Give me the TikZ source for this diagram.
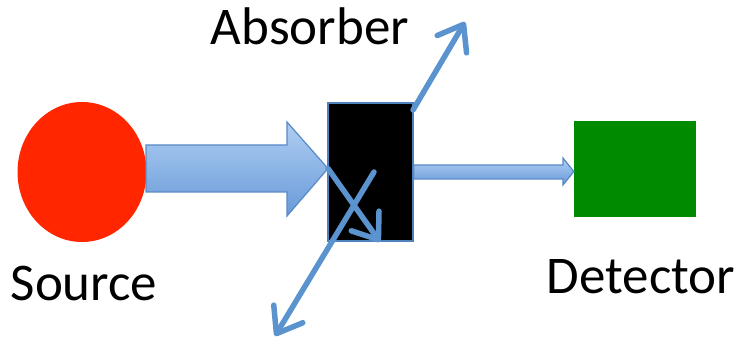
\documentclass[tikz,border=0pt]{standalone}
\usepackage{fontspec}
\setmainfont{Carlito}
\usetikzlibrary{arrows.meta,shapes.geometric,calc}

\definecolor{beamline}{RGB}{91,147,207}
\definecolor{beamedge}{RGB}{88,138,198}
\definecolor{beamtop}{RGB}{176,206,243}
\definecolor{beambot}{RGB}{104,154,216}
\definecolor{srcred}{RGB}{255,38,0}
\definecolor{detgreen}{RGB}{0,138,0}
\definecolor{boxedge}{RGB}{79,129,189}

\tikzset{
  lbl/.style={font=\fontsize{53}{60}\selectfont, inner sep=0pt, anchor=base},
  beam/.style={draw=beamedge, line width=1.2pt, line join=miter,
               top color=beamtop, bottom color=beambot},
  ray/.style={draw=beamline, line width=5.5pt, line cap=round,
              -{Straight Barb[length=23pt, width=34pt, line cap=round, line join=round]}},
}

\begin{document}
\begin{tikzpicture}[x=1pt,y=-1pt]
  \useasboundingbox (0,0) rectangle (741,339);

  % source, absorber, detector
  \node[ellipse, fill=srcred, minimum width=129pt, minimum height=140pt, inner sep=0pt]
    (source) at (82,172) {};

  % incoming beam
  \draw[beam] (146,145) -- (287,145) -- (287,122) -- (328,168.5)
              -- (287,216) -- (287,192) -- (146,192) -- cycle;

  \node[rectangle, fill=black, draw=boxedge, line width=1.5pt,
        minimum width=85pt, minimum height=138pt, inner sep=0pt]
    (absorber) at (370.5,172) {};

  \node[rectangle, fill=detgreen, minimum width=122pt, minimum height=96pt, inner sep=0pt]
    (detector) at (635,169) {};

  % transmitted beam
  \draw[beam] (absorber.east |- 0,165) -- (563,165) -- (563,158) -- (detector.west |- 0,171.5)
              -- (563,185) -- (563,179) -- (absorber.east |- 0,179) -- cycle;

  % scattered rays
  \coordinate (upstart) at (413,110);
  \coordinate (uptip) at (465,22);
  \coordinate (dnstart) at (328,168.5);
  \coordinate (dntip) at (380,242);
  \coordinate (llstart) at (374,172);
  \coordinate (lltip) at (275,336);

  \draw[ray] (upstart) -- (uptip);
  \draw[ray] (dnstart) -- (dntip);
  \draw[ray] (llstart) -- (lltip);

  % labels
  \node[lbl] (absorberlbl) at (310,45) {Absorber};
  \node[lbl] (sourcelbl) at (84,300) {Source};
  \node[lbl] (detectorlbl) at (641,293) {Detector};
\end{tikzpicture}
\end{document}
